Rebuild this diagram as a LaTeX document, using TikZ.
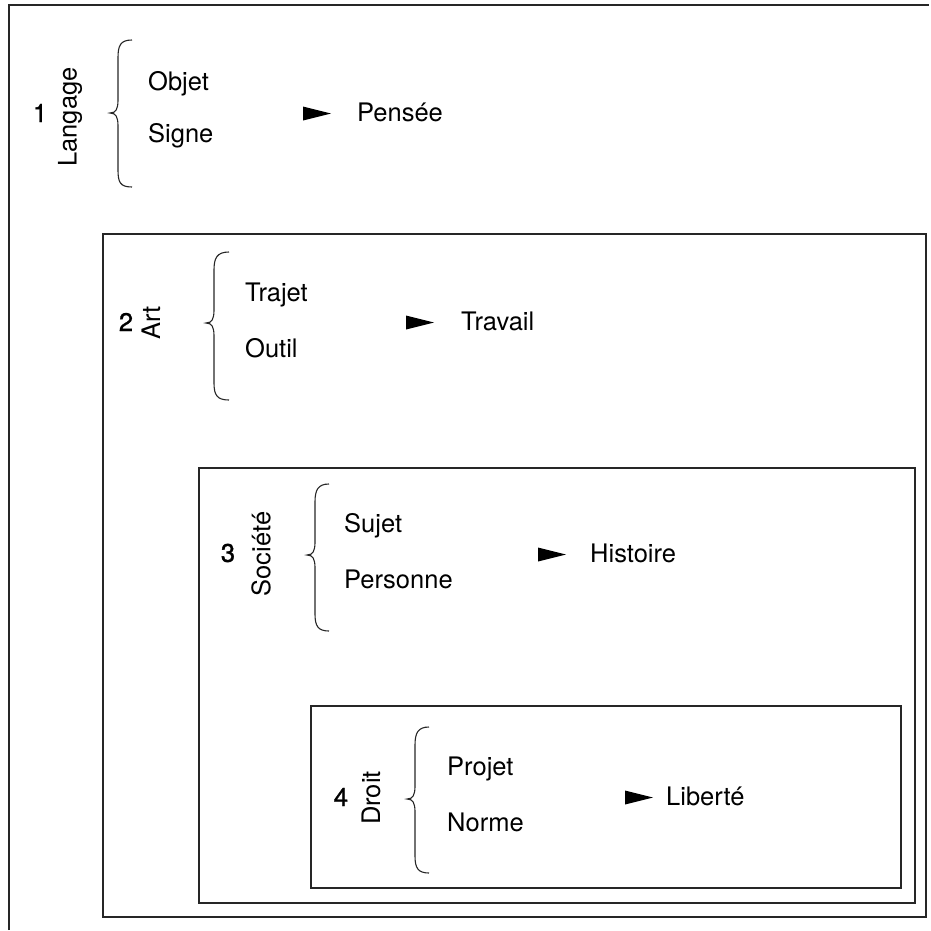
\documentclass[tikz,border=0pt]{standalone}
\usepackage{fontspec}
\setmainfont{TeX Gyre Heros}
\newfontfamily\numfont[FakeBold=1.3]{TeX Gyre Heros}
\begin{document}
\begin{tikzpicture}[x=1pt,y=-1pt,
  frame/.style={draw=black!85,line width=1.4pt},
  lbl/.style={font=\fontsize{25.5}{30}\selectfont,inner sep=0pt,anchor=west},
  num/.style={font=\numfont\fontsize{25.5}{30}\selectfont,inner sep=0pt},
  vlbl/.style={font=\fontsize{25.5}{30}\selectfont,inner sep=0pt,rotate=90},
  bracestyle/.style={draw=black!85,line width=1.1pt},
  tri/.style={fill=black}]
\useasboundingbox (0,0) rectangle (931,930);
% outer frame (open at right and bottom)
\coordinate (o1) at (9,930);
\coordinate (o2) at (9,5);
\coordinate (o3) at (929,5);
\draw[frame] (o1) -- (o2) -- (o3);
% nested boxes
\draw[frame] (103,234) rectangle (926,917);
\draw[frame] (199,468) rectangle (915,903);
\draw[frame] (311,706) rectangle (901,888);

% ---- block 1
\node[num] (n1) at (40,113) {1};
\node[vlbl] (v1) at (70,117) {Langage};
\draw[bracestyle] (132,40) .. controls (120,40) and (118,46) .. (118,58) -- (118,100)
  .. controls (118,109) and (116,113) .. (110,113)
  .. controls (116,113) and (118,117) .. (118,126) -- (118,170)
  .. controls (118,182) and (120,187) .. (132,187);
\node[lbl] (a1) at (148,84) {Objet};
\node[lbl] (b1) at (148,136) {Signe};
\fill[tri] (303,106.5) -- (331,113.5) -- (303,120.5) -- cycle;
\node[lbl] (r1) at (357,112) {Pensée};

% ---- block 2
\node[num] (n2) at (126,322) {2};
\node[vlbl] (v2) at (151,323) {Art};
\draw[bracestyle] (229,252) .. controls (217,252) and (214,258) .. (214,270) -- (214,310)
  .. controls (214,319) and (212,323) .. (206,323)
  .. controls (212,323) and (214,327) .. (214,336) -- (214,383)
  .. controls (214,395) and (217,400) .. (229,400);
\node[lbl] (a2) at (245,295) {Trajet};
\node[lbl] (b2) at (245,348) {Outil};
\fill[tri] (406,315.5) -- (434,322.5) -- (406,329.5) -- cycle;
\node[lbl] (r2) at (461,321) {Travail};

% ---- block 3
\node[num] (n3) at (228,553) {3};
\node[vlbl] (v3) at (261,554) {Société};
\draw[bracestyle] (329,484) .. controls (318,484) and (315,490) .. (315,502) -- (315,542)
  .. controls (315,551) and (313,555) .. (307,555)
  .. controls (313,555) and (315,559) .. (315,568) -- (315,614)
  .. controls (315,626) and (318,631) .. (329,631);
\node[lbl] (a3) at (344,526) {Sujet};
\node[lbl] (b3) at (344,579) {Personne};
\fill[tri] (538,547.5) -- (566,554.5) -- (538,561.5) -- cycle;
\node[lbl] (r3) at (590,553) {Histoire};

% ---- block 4
\node[num] (n4) at (341,797) {4};
\node[vlbl] (v4) at (371,798) {Droit};
\draw[bracestyle] (429,727) .. controls (418,727) and (415,733) .. (415,745) -- (415,786)
  .. controls (415,795) and (413,799) .. (407,799)
  .. controls (413,799) and (415,803) .. (415,812) -- (415,856)
  .. controls (415,868) and (418,873) .. (429,873);
\node[lbl] (a4) at (447,769) {Projet};
\node[lbl] (b4) at (447,822) {Norme};
\fill[tri] (625,790.5) -- (653,797.5) -- (625,804.5) -- cycle;
\node[lbl] (r4) at (666,796) {Liberté};
\end{tikzpicture}
\end{document}
